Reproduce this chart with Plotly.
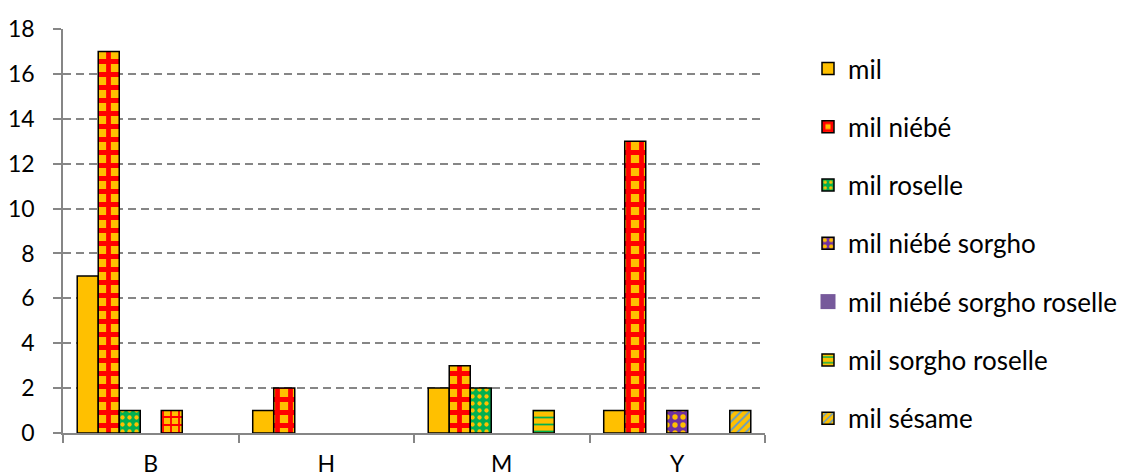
import plotly.graph_objects as go

categories = ["B", "H", "M", "Y"]
series_names = ["mil", "mil niébé", "mil roselle", "mil niébé sorgho",
                "mil niébé sorgho roselle", "mil sorgho roselle", "mil sésame"]
mil = [7, 1, 2, 1]
mil_niebe = [17, 2, 3, 13]
mil_roselle = [1, 0, 2, 0]
mil_niebe_sorgho = [0, 0, 0, 1]
mil_niebe_sorgho_roselle = [1, 0, 0, 0]
mil_sorgho_roselle = [0, 0, 1, 0]
mil_sesame = [0, 0, 0, 1]
y_ticks = [0, 2, 4, 6, 8, 10, 12, 14, 16, 18]

values = [mil, mil_niebe, mil_roselle, mil_niebe_sorgho,
          mil_niebe_sorgho_roselle, mil_sorgho_roselle, mil_sesame]

YEL = "#FFC000"
RED = "#FF0000"
GRN = "#00B050"
PUR = "#7030A0"

styles = [
    dict(color=YEL, pattern=dict(shape="")),
    dict(color=YEL, pattern=dict(shape="+", fgcolor=RED, bgcolor=YEL, size=13, solidity=0.6, fillmode="replace")),
    dict(color=GRN, pattern=dict(shape=".", fgcolor=YEL, bgcolor=GRN, size=7, solidity=0.3, fillmode="replace")),
    dict(color=PUR, pattern=dict(shape=".", fgcolor=YEL, bgcolor=PUR, size=8, solidity=0.35, fillmode="replace")),
    dict(color=YEL, pattern=dict(shape="+", fgcolor=RED, bgcolor=YEL, size=8, solidity=0.4, fillmode="replace")),
    dict(color=YEL, pattern=dict(shape="-", fgcolor=GRN, bgcolor=YEL, size=7, solidity=0.25, fillmode="replace")),
    dict(color=YEL, pattern=dict(shape="/", fgcolor="#5B9BD5", bgcolor=YEL, size=6, solidity=0.3, fillmode="replace")),
]

FONT = "Lato"
fig = go.Figure()
for i, (name, vals, st) in enumerate(zip(series_names, values, styles)):
    yv = [v if v else None for v in vals]
    special = (i == 4)
    fig.add_trace(go.Bar(
        x=categories, y=yv, name=name,
        marker=dict(color=st["color"], pattern=st["pattern"],
                    line=dict(color="black", width=1.5)),
        legendgroup=name, showlegend=not special, legendrank=i + 1,
    ))
    if special:
        fig.add_trace(go.Scatter(
            x=[None], y=[None], name=name, mode="markers",
            marker=dict(symbol="square", color="#76599B", size=15, line=dict(width=0)),
            legendgroup=name, showlegend=True, legendrank=i + 1,
        ))

fig.update_layout(
    width=1135, height=476,
    margin=dict(l=63, r=370, t=29, b=43),
    paper_bgcolor="white", plot_bgcolor="white",
    barmode="group", bargap=0.162, bargroupgap=0,
    font=dict(family=FONT, size=23, color="black"),
    showlegend=True,
    legend=dict(
        xref="container", yref="container",
        x=808 / 1135, y=1 - 45 / 476, xanchor="left", yanchor="top",
        traceorder="grouped", tracegroupgap=21.5, maxheight=1,
        font=dict(family=FONT, size=26, color="black"),
        bgcolor="rgba(0,0,0,0)",
    ),
)
fig.update_xaxes(
    type="category", showline=True, linecolor="#868686", linewidth=1.5,
    ticks="outside", tickson="boundaries", ticklen=8, tickcolor="#868686", tickwidth=1.5,
    ticklabelstandoff=10, showgrid=False, zeroline=False, automargin=False,
)
fig.update_yaxes(
    range=[0, 18], tickvals=y_ticks, showline=True, linecolor="#868686", linewidth=1.5,
    ticks="outside", ticklen=8, tickcolor="#868686", tickwidth=1.5,
    ticklabelstandoff=14, showgrid=True, gridcolor="#868686", gridwidth=1.5,
    griddash="8px,5px", zeroline=False, automargin=False,
)
fig.write_html("out.html")
